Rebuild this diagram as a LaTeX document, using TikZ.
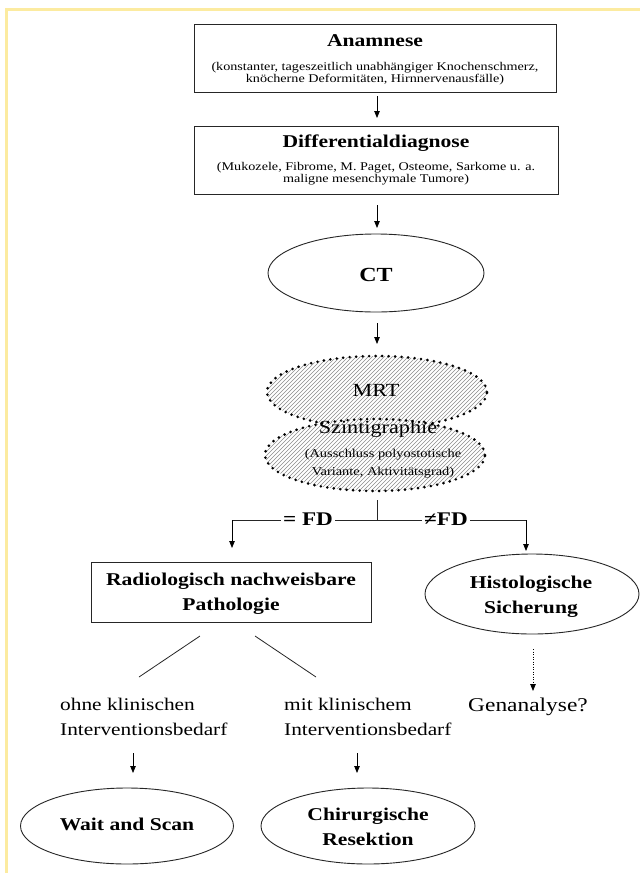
\documentclass[tikz,border=0pt]{standalone}
\usepackage{fontspec}
\setmainfont{Liberation Serif}[FakeStretch=1.2]
\usetikzlibrary{arrows.meta,shapes.geometric}
\definecolor{frameyellow}{HTML}{FCEBA0}
\begin{document}
\begin{tikzpicture}[x=1pt,y=-1pt,
  box/.style={draw=black!85, line width=0.9pt, rectangle, inner sep=0pt},
  ell/.style={draw=black!85, line width=0.9pt, ellipse, inner sep=0pt},
  dotell/.style={ellipse, inner sep=0pt, draw=black, line width=2.9pt, line cap=round,
    dash pattern=on 0pt off 6.5pt},
  hatch/.style={draw=black!45, line width=0.55pt},
  arr/.style={draw=black, line width=0.8pt, -{Triangle[length=7pt,width=5.5pt]}},
  dotarr/.style={draw=black, line width=0.8pt, dash pattern=on 1pt off 1.5pt, -{Triangle[length=7pt,width=5.5pt]}},
  ln/.style={draw=black!85, line width=0.8pt},
  ttl/.style={font=\fontsize{18}{25}\selectfont\bfseries, inner sep=0pt, align=center},
  sub/.style={font=\fontsize{11.8}{12}\selectfont, inner sep=0pt, align=center},
  txt/.style={font=\fontsize{17.8}{25}\selectfont, inner sep=0pt, align=left},
  big/.style={font=\fontsize{18.5}{22}\selectfont, inner sep=0pt},
  fd/.style={font=\fontsize{19.3}{22}\selectfont\bfseries, fill=white, inner sep=2pt},
]
\useasboundingbox (0,0) rectangle (640,873);
\fill[white] (0,0) rectangle (640,873);
% yellow frame
\draw[frameyellow, line width=3pt] (640,9) -- (6.5,9) -- (6.5,873);

% Anamnese
\node[box, minimum width=362, minimum height=68] (anam) at (375,58) {};
\node[ttl] (anamT) at (375,41) {Anamnese};
\node[sub] (anamS) at (375,74) {(konstanter, tageszeitlich unabhängiger Knochenschmerz,\\knöcherne Deformitäten, Hirnnervenausfälle)};

% Differentialdiagnose
\node[box, minimum width=364, minimum height=68] (diff) at (376,160) {};
\node[ttl] (diffT) at (376,143) {Differentialdiagnose};
\node[sub] (diffS) at (376,174) {(Mukozele, Fibrome, M. Paget, Osteome, Sarkome u. a.\\maligne mesenchymale Tumore)};

\coordinate (c1) at (377,96); \coordinate (c1e) at (377,118);
\draw[arr] (c1) -- (c1e);

% CT
\node[ell, minimum width=216, minimum height=78] (ct) at (376,273) {};
\node[ttl, font=\fontsize{20}{24}\selectfont\bfseries] (ctT) at (376,275) {CT};
\coordinate (c2) at (377,205); \coordinate (c2e) at (377,228);
\draw[arr] (c2) -- (c2e);

% MRT (hatched, dotted outline)
\fill[white] (377,392) ellipse [x radius=110, y radius=36];
\begin{scope}
  \clip (377,392) ellipse [x radius=110, y radius=36];
  \foreach \i in {-160,-156,...,160} \draw[hatch] (377+\i-45,392+45) -- (377+\i+45,392-45);
\end{scope}
\node[dotell, minimum width=220, minimum height=72] (mrt) at (377,392) {};
% Szintigraphie (drawn over MRT)
\fill[white] (375,455) ellipse [x radius=110, y radius=36];
\begin{scope}
  \clip (375,455) ellipse [x radius=110, y radius=36];
  \foreach \i in {-160,-156,...,160} \draw[hatch] (375+\i-45,455+45) -- (375+\i+45,455-45);
\end{scope}
\node[dotell, minimum width=220, minimum height=72] (szi) at (375,455) {};
\node[big] (mrtT) at (376,390) {MRT};
\node[big] (sziT) at (378,429) {Szintigraphie};
\node[sub, font=\fontsize{12}{18}\selectfont] (sziS) at (383,464) {(Ausschluss polyostotische\\Variante, Aktivitätsgrad)};
\coordinate (c3) at (377,323); \coordinate (c3e) at (377,344);
\draw[arr] (c3) -- (c3e);

% split
\coordinate (split) at (377,520);
\coordinate (stub) at (377,500);
\coordinate (lft) at (232,520);
\coordinate (rgt) at (526,520);
\coordinate (lftend) at (232,548);
\coordinate (rgtend) at (526,551);
\draw[ln] (stub) -- (split);

% Radiologisch box
\node[box, minimum width=280, minimum height=60] (rad) at (231,592) {};
\node[ttl] (radT) at (231,594) {Radiologisch nachweisbare\\Pathologie};

% Histologische
\node[ell, minimum width=214, minimum height=80] (his) at (532,594) {};
\node[ttl] (hisT) at (531,597) {Histologische\\Sicherung};

\draw[ln] (split) -- (lft);
\draw[ln] (split) -- (rgt);
\draw[arr] (lft) -- (lftend);
\draw[arr] (rgt) -- (rgtend);
\node[fd] (eqfd) at (308,519) {= FD};
\node[fd] (nefd) at (446,519) {≠FD};

% diagonal lines
\coordinate (d1a) at (200,636); \coordinate (d1b) at (139,677);
\coordinate (d2a) at (255,636); \coordinate (d2b) at (316,677);
\draw[ln] (d1a) -- (d1b);
\draw[ln] (d2a) -- (d2b);

\node[txt, anchor=west] (ohne) at (60,717) {ohne klinischen\\Interventionsbedarf};
\node[txt, anchor=west] (mit) at (284,717) {mit klinischem\\Interventionsbedarf};
\node[big, font=\fontsize{19.5}{22}\selectfont] (gen) at (528,707) {Genanalyse?};
\coordinate (gtop) at (533,649);
\coordinate (gend) at (533,691);
\draw[dotarr] (gtop) -- (gend);

% bottom ellipses
\node[ell, minimum width=213, minimum height=76] (wait) at (127,826) {};
\node[ttl] (waitT) at (127,824) {Wait and Scan};
\node[ell, minimum width=214, minimum height=76] (chir) at (368,826) {};
\node[ttl] (chirT) at (368,827) {Chirurgische\\Resektion};

\coordinate (a1) at (133,753); \coordinate (a1e) at (133,773);
\coordinate (a2) at (357,753); \coordinate (a2e) at (357,773);
\draw[arr] (a1) -- (a1e);
\draw[arr] (a2) -- (a2e);
\end{tikzpicture}
\end{document}
